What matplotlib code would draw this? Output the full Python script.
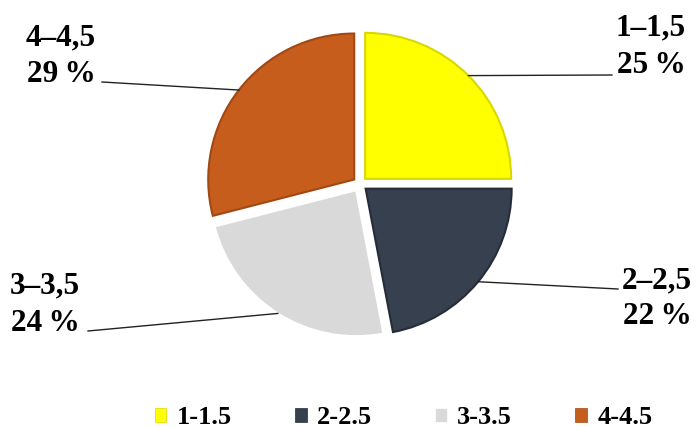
import matplotlib
matplotlib.use("Agg")
import matplotlib.pyplot as plt
import numpy as np

categories = ["1-1.5", "2-2.5", "3-3.5", "4-4.5"]
label_names = ["1\u20131,5", "2\u20132,5", "3\u20133,5", "4\u20134,5"]
values = [25, 22, 24, 29]
colors = ["#FFFF00", "#37404F", "#D9D9D9", "#C65D1C"]
edge_colors = ["#D8D800", "#262D38", "#FFFFFF", "#A14813"]

W, H = 697, 428
cx, cy, R = 360, 184, 146

plt.rcParams['font.family'] = ['Liberation Serif', 'DejaVu Serif']
fig = plt.figure(figsize=(W / 100, H / 100), dpi=100)
ax = fig.add_axes([0, 0, 1, 1])

wedges, _ = ax.pie(values, colors=colors, startangle=90, counterclock=False,
                   explode=[0.05] * 4, radius=1,
                   wedgeprops=dict(linewidth=1.5))
for w, ec in zip(wedges, edge_colors):
    w.set_edgecolor(ec)

ax.set_xlim(-cx / R, (W - cx) / R)
ax.set_ylim(-(H - cy) / R, cy / R)
ax.set_aspect('auto')
ax.axis('off')


def px(x, y):
    return (x - cx) / R, (cy - y) / R


# label layout in pixels: (center x, baseline1, baseline2, leader end x, leader end y)
layout = [
    (651, 35, 73, 612, 75),
    (657, 288, 324, 618, 289),
    (45, 293, 331, 88, 331),
    (61, 45, 82, 102, 82),
]

for w, name, v, (tx, b1, b2, lx, ly) in zip(wedges, label_names, values, layout):
    th = np.deg2rad(0.5 * (w.theta1 + w.theta2))
    sx = w.center[0] + w.r * np.cos(th)
    sy = w.center[1] + w.r * np.sin(th)
    ex, ey = px(lx, ly)
    ax.plot([sx, ex], [sy, ey], color="#222222", lw=1.0)
    x1, y1 = px(tx, b1)
    x2, y2 = px(tx, b2)
    ax.text(x1, y1, name, ha='center', va='baseline', fontsize=22.5,
            fontweight='bold', color='black')
    ax.text(x2, y2, f"{v}\u2009%", ha='center', va='baseline', fontsize=22.5,
            fontweight='bold', color='black')

leg = fig.legend(wedges, categories, loc='center', ncol=4, frameon=False,
                 bbox_to_anchor=(403.5 / W, 1 - 418 / H),
                 prop=dict(family='Liberation Serif', weight='bold', size=19),
                 handlelength=0.45, handleheight=0.45, handletextpad=0.38,
                 columnspacing=2.4)
for h in leg.legend_handles:
    h.set_linewidth(0.5)

fig.savefig("out.png", dpi=100)
